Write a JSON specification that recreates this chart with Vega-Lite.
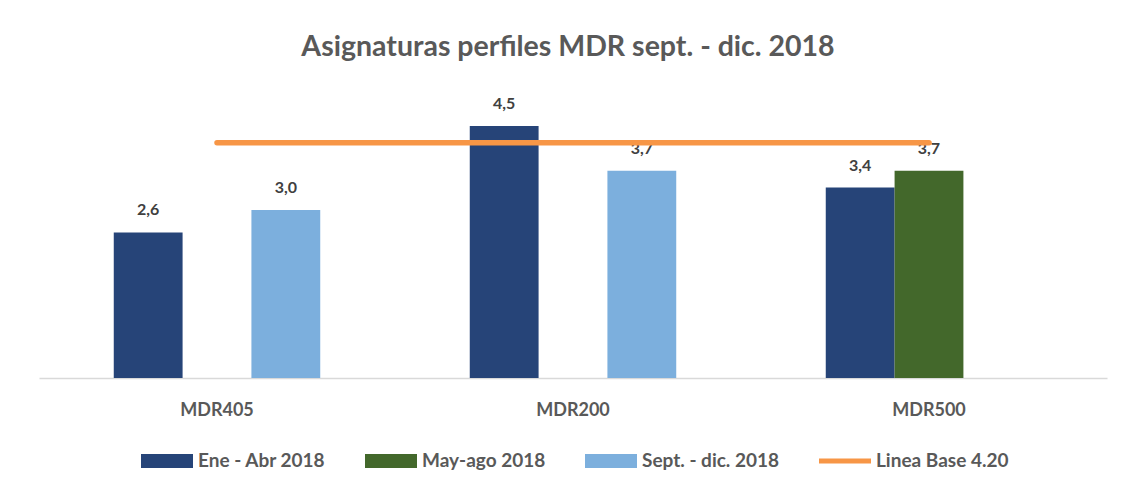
{
  "$schema": "https://vega.github.io/schema/vega-lite/v6.json",
  "autosize": {"type": "none"},
  "width": 1068,
  "height": 280,
  "padding": {"left": 39, "top": 98, "right": 25, "bottom": 110},
  "background": "white",
  "config": {
    "view": {"stroke": null},
    "font": "Lato"
  },
  "title": {
    "text": "Asignaturas perfiles MDR sept. - dic. 2018",
    "fontSize": 28.5,
    "fontWeight": "bold",
    "color": "#595959",
    "anchor": "middle",
    "dx": -5,
    "offset": 35
  },
  "datasets": {
    "bars": [
      {"perfil": "MDR405", "serie": "Ene - Abr 2018", "valor": 2.6, "etiqueta": "2,6"},
      {"perfil": "MDR405", "serie": "Sept. - dic. 2018", "valor": 3.0, "etiqueta": "3,0"},
      {"perfil": "MDR200", "serie": "Ene - Abr 2018", "valor": 4.5, "etiqueta": "4,5"},
      {"perfil": "MDR200", "serie": "Sept. - dic. 2018", "valor": 3.7, "etiqueta": "3,7"},
      {"perfil": "MDR500", "serie": "Ene - Abr 2018", "valor": 3.4, "etiqueta": "3,4"},
      {"perfil": "MDR500", "serie": "May-ago 2018", "valor": 3.7, "etiqueta": "3,7"}
    ],
    "base": [
      {"desde": "MDR405", "hasta": "MDR500", "valor": 4.2, "serie": "Linea Base 4.20"}
    ]
  },
  "layer": [
    {
      "data": {"name": "bars"},
      "mark": {"type": "bar"},
      "encoding": {
        "x": {"field": "perfil", "type": "nominal",
          "scale": {"domain": ["MDR405", "MDR200", "MDR500"], "paddingInner": 0.42, "paddingOuter": 0.21},
          "axis": {"title": null, "ticks": false, "domainColor": "#D9D9D9", "domainWidth": 1.5, "labelAngle": 0,
            "labelFontSize": 18, "labelFontWeight": "bold", "labelColor": "#595959", "labelPadding": 23}},
        "xOffset": {"field": "serie", "type": "nominal",
          "scale": {"domain": ["Ene - Abr 2018", "May-ago 2018", "Sept. - dic. 2018"], "paddingInner": 0, "paddingOuter": 0}},
        "y": {"field": "valor", "type": "quantitative", "scale": {"domain": [0, 5], "nice": false}, "axis": null},
        "color": {"field": "serie", "type": "nominal",
          "scale": {"domain": ["Ene - Abr 2018", "May-ago 2018", "Sept. - dic. 2018", "Linea Base 4.20"],
            "range": ["#264478", "#43682B", "#7CAFDD", "#F79646"]},
          "legend": {"title": null, "orient": "none", "legendX": 102, "legendY": 337, "direction": "horizontal",
            "labelFontSize": 19, "labelFontWeight": "bold", "labelColor": "#595959", "labelOffset": 5,
            "columnPadding": 39, "symbolSize": 2704, "symbolStrokeWidth": 0,
            "symbolType": "M-1,-0.27h2v0.54h-2z",
            "encode": {"symbols": {"update": {"shape": {"signal": "datum.value === 'Linea Base 4.20' ? 'M-1,-0.1h2v0.2h-2z' : 'M-1,-0.27h2v0.54h-2z'"}}}}}}
      }
    },
    {
      "data": {"name": "bars"},
      "mark": {"type": "text", "baseline": "alphabetic", "dy": -17, "fontSize": 16, "fontWeight": "bold", "color": "#404040"},
      "encoding": {
        "x": {"field": "perfil", "type": "nominal"},
        "xOffset": {"field": "serie", "type": "nominal"},
        "y": {"field": "valor", "type": "quantitative"},
        "text": {"field": "etiqueta", "type": "nominal"}
      }
    },
    {
      "data": {"name": "base"},
      "mark": {"type": "rule", "strokeWidth": 5.5, "strokeCap": "round"},
      "encoding": {
        "x": {"field": "desde", "type": "nominal"},
        "x2": {"field": "hasta"},
        "y": {"field": "valor", "type": "quantitative"},
        "color": {"field": "serie", "type": "nominal"}
      }
    }
  ]
}
